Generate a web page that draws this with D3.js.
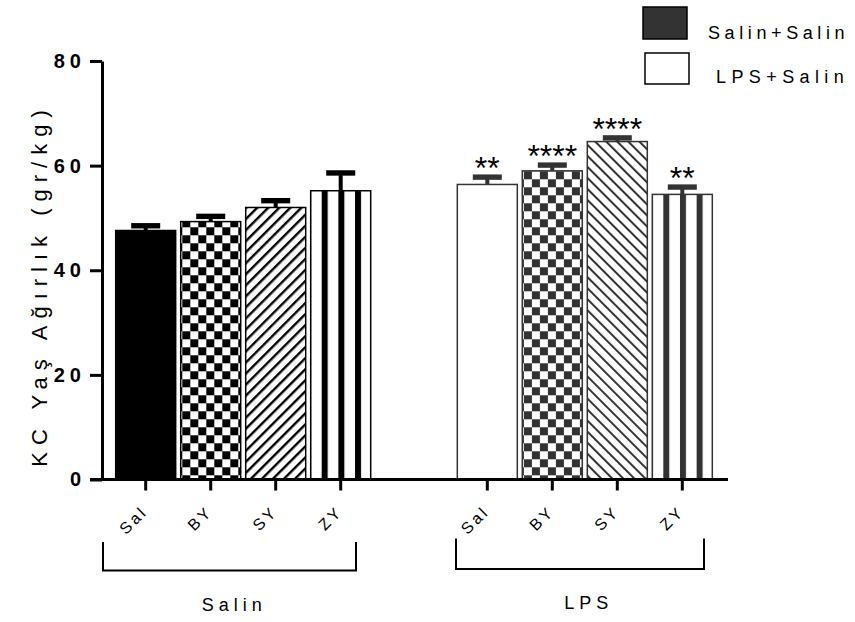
<!DOCTYPE html>
<html>
<head>
<meta charset="utf-8">
<script src="https://cdn.jsdelivr.net/npm/d3@7"></script>
<style>
  body { margin: 0; background: #fff; }
  svg { display: block; font-family: "Liberation Sans", Arial, sans-serif; }
</style>
</head>
<body>
<svg id="chart" width="855" height="622"></svg>
<script>
// ---- data ----
const groups = ["Salin", "LPS"];
const categories = ["Sal", "BY", "SY", "ZY"];
const salinMeans = [47.6, 49.3, 52.0, 55.2];
const salinSem = [0.9, 1.0, 1.3, 3.4];
const lpsMeans = [56.4, 59.0, 64.6, 54.5];
const lpsSem = [1.4, 1.1, 0.7, 1.4];
const lpsStars = ["**", "****", "****", "**"];
const yTicks = [0, 20, 40, 60, 80];
const legendLabels = ["Salin+Salin", "LPS+Salin"];
const yTitle = "KC Yaş Ağırlık (gr/kg)";

const rows = [];
groups.forEach((g, gi) => categories.forEach((c, ci) => rows.push({
  group: g, gi, cat: c, ci,
  mean: gi ? lpsMeans[ci] : salinMeans[ci],
  sem: gi ? lpsSem[ci] : salinSem[ci],
  stars: gi ? lpsStars[ci] : ""
})));

// ---- layout ----
const svg = d3.select("#chart");
svg.append("rect").attr("width", 855).attr("height", 622).attr("fill", "#fff");

const baseY = 479.5;
const y = d3.scaleLinear().domain([0, 80]).range([baseY, 61]);
const x0 = d3.scaleBand().domain(groups).range([113.2, 714.8]).paddingInner(0.2389);
const x1 = d3.scaleBand().domain(categories).range([0, x0.bandwidth()])
  .paddingInner(0.077).paddingOuter(0.0385);

const ink = gi => gi ? "#333" : "#000";
const barX = d => x0(d.group) + x1(d.cat);
const barCx = d => barX(d) + x1.bandwidth() / 2;

// ---- fill patterns ----
const defs = svg.append("defs");
function fillFor(d) {
  const col = ink(d.gi);
  const id = `pat-${d.gi}-${d.ci}`;
  if (d.ci === 0) return d.gi ? "#fff" : col;
  if (d.ci === 1) {
    const p = defs.append("pattern").attr("id", id).attr("patternUnits", "userSpaceOnUse")
      .attr("width", 16).attr("height", 16).attr("x", barX(d) + 1.6).attr("y", 11.3);
    p.append("rect").attr("width", 16).attr("height", 16).attr("fill", "#fff");
    p.append("rect").attr("width", 8).attr("height", 8).attr("fill", col);
    p.append("rect").attr("x", 8).attr("y", 8).attr("width", 8).attr("height", 8).attr("fill", col);
  } else if (d.ci === 2) {
    const s = 7.8;
    const p = defs.append("pattern").attr("id", id).attr("patternUnits", "userSpaceOnUse")
      .attr("width", s).attr("height", s)
      .attr("patternTransform", `rotate(${d.gi ? -45 : 45})`);
    p.append("rect").attr("width", s).attr("height", s).attr("fill", "#fff");
    p.append("rect").attr("width", d.gi ? 2.0 : 2.4).attr("height", s).attr("fill", col);
  } else {
    const p = defs.append("pattern").attr("id", id).attr("patternUnits", "userSpaceOnUse")
      .attr("width", 16.67).attr("height", 10).attr("x", barX(d) + 11).attr("y", 0);
    p.append("rect").attr("width", 16.67).attr("height", 10).attr("fill", "#fff");
    p.append("rect").attr("width", 6).attr("height", 10).attr("fill", col);
  }
  return `url(#${id})`;
}

// ---- bars ----
svg.append("g").selectAll("rect").data(rows).join("rect")
  .attr("x", barX)
  .attr("y", d => y(d.mean))
  .attr("width", x1.bandwidth())
  .attr("height", d => baseY - y(d.mean))
  .attr("fill", d => fillFor(d))
  .attr("stroke", d => ink(d.gi))
  .attr("stroke-width", 1.5);

// ---- error bars ----
const err = svg.append("g");
err.selectAll("rect.stem").data(rows).join("rect").attr("class", "stem")
  .attr("x", d => barCx(d) - 2)
  .attr("y", d => y(d.mean + d.sem))
  .attr("width", 4)
  .attr("height", d => y(d.mean) - y(d.mean + d.sem))
  .attr("fill", d => ink(d.gi));
err.selectAll("rect.cap").data(rows).join("rect").attr("class", "cap")
  .attr("x", d => barCx(d) - 14.5)
  .attr("y", d => y(d.mean + d.sem) - 2.7)
  .attr("width", 29)
  .attr("height", 5.4)
  .attr("fill", d => ink(d.gi));

// ---- significance stars ----
svg.append("g").selectAll("text").data(rows.filter(d => d.stars)).join("text")
  .attr("x", d => barCx(d))
  .attr("y", d => y(d.mean + d.sem) + 2)
  .attr("text-anchor", "middle")
  .attr("font-size", 32)
  .attr("fill", "#000")
  .text(d => d.stars);

// ---- y axis ----
const yAxis = svg.append("g").attr("transform", "translate(102,0)")
  .call(d3.axisLeft(y).tickValues(yTicks).tickSize(12).tickSizeOuter(0).tickPadding(4));
yAxis.select(".domain").attr("stroke", "#000").attr("stroke-width", 3);
yAxis.selectAll(".tick line").attr("stroke", "#000").attr("stroke-width", 3);
yAxis.selectAll(".tick text")
  .attr("font-family", "'Liberation Sans', Arial, sans-serif")
  .attr("font-size", 20).attr("font-weight", "bold").attr("letter-spacing", 5)
  .attr("fill", "#000");

// ---- x axis ----
svg.append("line").attr("x1", 90).attr("x2", 728).attr("y1", baseY).attr("y2", baseY)
  .attr("stroke", "#000").attr("stroke-width", 3);
groups.forEach(g => {
  const ax = svg.append("g").attr("transform", `translate(${x0(g)},${baseY})`)
    .call(d3.axisBottom(x1).tickSize(11).tickSizeOuter(0));
  ax.select(".domain").remove();
  ax.selectAll(".tick line").attr("stroke", "#000").attr("stroke-width", 3);
  ax.selectAll(".tick text")
    .attr("font-family", "'Liberation Sans', Arial, sans-serif")
    .attr("font-size", 16).attr("letter-spacing", 3).attr("fill", "#000")
    .attr("text-anchor", "end").attr("x", 0).attr("y", 0).attr("dy", 0)
    .attr("transform", "translate(3,33) rotate(-45)");
});

// ---- group brackets ----
const bracketSpan = { Salin: [-10.2, 242.8], LPS: [1.2, 249.2] };
const bracketTop = { Salin: 542, LPS: 538.5 };
const bracketBottom = { Salin: 570.5, LPS: 569 };
groups.forEach(g => {
  const [a, b] = bracketSpan[g].map(v => x0(g) + v);
  svg.append("path")
    .attr("d", `M${a},${bracketTop[g]}V${bracketBottom[g]}H${b}V${bracketTop[g]}`)
    .attr("fill", "none").attr("stroke", "#000").attr("stroke-width", 2);
});
svg.append("g").selectAll("text").data(groups).join("text")
  .attr("x", g => x0(g) + (g === "Salin" ? 121 : 134))
  .attr("y", g => g === "Salin" ? 611 : 609)
  .attr("text-anchor", "middle")
  .attr("font-size", 18).attr("letter-spacing", 5).attr("fill", "#000")
  .text(g => g);

// ---- y title ----
svg.append("text")
  .attr("transform", "translate(47,285) rotate(-90)")
  .attr("text-anchor", "middle")
  .attr("font-size", 22).attr("letter-spacing", 7).attr("fill", "#000")
  .text(yTitle);

// ---- legend ----
const legend = svg.append("g");
const boxes = [{ x: 643, y: 7, w: 44, h: 32, fill: "#333" }, { x: 645, y: 53, w: 44, h: 31, fill: "#fff" }];
legend.selectAll("rect").data(legendLabels).join("rect")
  .attr("x", (d, i) => boxes[i].x).attr("y", (d, i) => boxes[i].y)
  .attr("width", (d, i) => boxes[i].w).attr("height", (d, i) => boxes[i].h)
  .attr("fill", (d, i) => boxes[i].fill).attr("stroke", "#000").attr("stroke-width", 1.5);
legend.selectAll("text").data(legendLabels).join("text")
  .attr("x", (d, i) => i ? 716 : 708).attr("y", (d, i) => i ? 83 : 39)
  .attr("font-size", 18).attr("letter-spacing", (d, i) => i ? 5.4 : 4.6).attr("fill", "#000")
  .text(d => d);
</script>
</body>
</html>
